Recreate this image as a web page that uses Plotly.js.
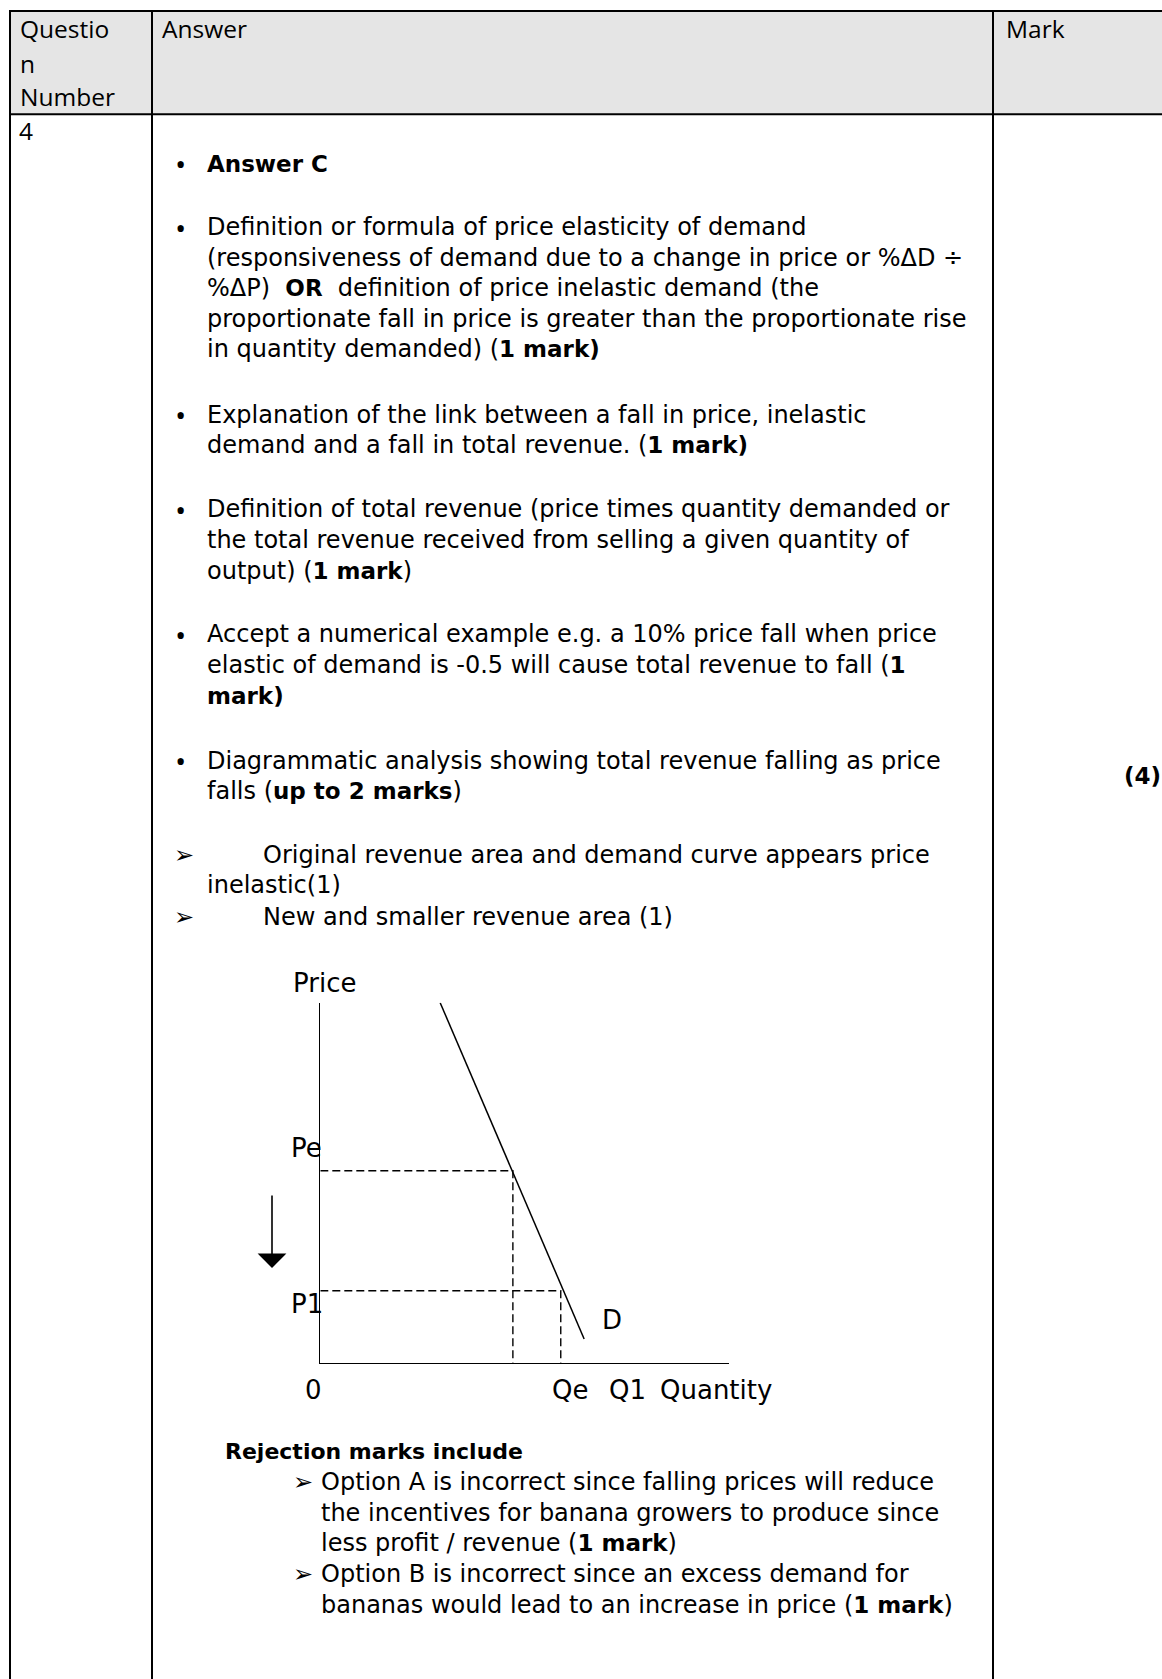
<!DOCTYPE html>
<html><head><meta charset="utf-8">
<script src="https://cdn.plot.ly/plotly-3.0.1.min.js"></script>
<style>html,body{margin:0;padding:0;background:#fff;}#chart{width:1162px;height:1679px;}</style>
</head><body><div id="chart"></div>
<script>
// ---------------- data ----------------
const headerQuestion = ['Questio', 'n', 'Number'];
const headerAnswer = 'Answer';
const headerMark = 'Mark';
const questionNumber = '4';
const markTotal = '(4)';

const answerLines = [
  '<b>Answer C</b>',
  'Definition or formula of price elasticity of demand',
  '(responsiveness of demand due to a change in price or %ΔD ÷',
  '%ΔP)&nbsp;&nbsp;<b>OR</b>&nbsp;&nbsp;definition of price inelastic demand (the',
  'proportionate fall in price is greater than the proportionate rise',
  'in quantity demanded) (<b>1 mark)</b>',
  'Explanation of the link between a fall in price, inelastic',
  'demand and a fall in total revenue. (<b>1 mark)</b>',
  'Definition of total revenue (price times quantity demanded or',
  'the total revenue received from selling a given quantity of',
  'output) (<b>1 mark</b>)',
  'Accept a numerical example e.g. a 10% price fall when price',
  'elastic of demand is -0.5 will cause total revenue to fall (<b>1</b>',
  '<b>mark)</b>',
  'Diagrammatic analysis showing total revenue falling as price',
  'falls (<b>up to 2 marks</b>)',
  'Original revenue area and demand curve appears price',
  'inelastic(1)',
  'New and smaller revenue area (1)'
];
// line kinds: b = bullet, c = continuation, a = arrow item
const answerKinds = ['b','b','c','c','c','c','b','c','b','c','c','b','c','c','b','c','a','c','a'];

const rejectionTitle = '<b>Rejection marks include</b>';
const rejectionLines = [
  'Option A is incorrect since falling prices will reduce',
  'the incentives for banana growers to produce since',
  'less profit / revenue (<b>1 mark</b>)',
  'Option B is incorrect since an excess demand for',
  'bananas would lead to an increase in price (<b>1 mark</b>)'
];
const rejectionKinds = ['a','c','c','a','c'];

// diagram (price/quantity in diagram units)
const axisTitles = ['Price', 'Quantity'];
const demandLabel = 'D';
const demandQ = [3.33, 7.33];
const demandP = [10, 0.66];
const priceLabels = ['Pe', 'P1'];
const priceValues = [5.33, 2.0];
const quantityLabels = ['Qe', 'Q1'];
const quantityValues = [5.35, 6.68];
const originLabel = '0';

// ---------------- layout ----------------
const W = 1162, H = 1679;
const BODY = {family: 'DejaVu Sans, sans-serif', size: 24, color: '#000'};
const BULLET = {family: 'Open Sans, sans-serif', size: 30, color: '#000'};
const ARROW = {family: 'DejaVu Sans, sans-serif', size: 24, color: '#000'};
const HEAD = {family: 'Open Sans, sans-serif', size: 24.5, color: '#000'};
const MARK = {family: 'DejaVu Sans, sans-serif', size: 24, color: '#000'};
const DIAG = {family: 'DejaVu Sans, sans-serif', size: 26, color: '#000'};
const boldStyle = s => s.replace(/<b>/g, '<b><span style="font-size:23px">').replace(/<\/b>/g, '</span></b>');

const answerY = [163.5, 227, 257.5, 288, 318.5, 349, 414.5, 445, 509, 539.5, 570.5, 634, 665, 696, 760.5, 791, 854.5, 885, 916.5];
const rejectionTitleY = 1451;
const rejectionY = [1482, 1512.5, 1543, 1574, 1604.5];

const annotations = [];
function txt(x, y, text, font, xanchor) {
  annotations.push({xref: 'x', yref: 'y', x: x, y: y, text: text, showarrow: false, borderpad: 0,
    xanchor: xanchor || 'left', yanchor: 'middle', font: font, align: 'left'});
}
// header
headerQuestion.forEach((t, i) => txt(19, [28, 63, 96][i], t, HEAD));
txt(161, 28, headerAnswer, HEAD);
txt(1005, 28, headerMark, HEAD);
txt(18, 130, questionNumber, HEAD);
txt(1162, 776, boldStyle('<b>' + markTotal + '</b>'), MARK, 'right');

// answer lines
answerLines.forEach((t, i) => {
  const k = answerKinds[i];
  const s = boldStyle(t);
  if (k === 'b') { txt(180, answerY[i], '•', BULLET, 'center'); txt(206, answerY[i], s, BODY); }
  else if (k === 'a') { txt(173, answerY[i], '➢', ARROW); txt(262, answerY[i], s, BODY); }
  else txt(206, answerY[i], s, BODY);
});
txt(224, rejectionTitleY, boldStyle(rejectionTitle).replace('23px', '22px'), BODY);
rejectionLines.forEach((t, i) => {
  if (rejectionKinds[i] === 'a') txt(292, rejectionY[i], '➢', ARROW);
  txt(320, rejectionY[i], boldStyle(t), BODY);
});

// diagram labels
txt(324, 983, axisTitles[0], DIAG, 'center');
txt(716, 1390, axisTitles[1], DIAG, 'center');
txt(290, 1148, priceLabels[0], DIAG);
txt(290, 1304, priceLabels[1], DIAG);
txt(313, 1390, originLabel, DIAG, 'center');
txt(570, 1390, quantityLabels[0], DIAG, 'center');
txt(627, 1390, quantityLabels[1], DIAG, 'center');
txt(601, 1320, demandLabel, DIAG);
// price-fall arrow
annotations.push({xref: 'x', yref: 'y', axref: 'x', ayref: 'y', x: 272, y: 1268, ax: 272, ay: 1194,
  showarrow: true, arrowhead: 1, arrowsize: 3, arrowwidth: 1.6, arrowcolor: '#000', text: ''});

// table shapes
const LC = '#000';
const shapes = [
  {type: 'rect', xref: 'x', yref: 'y', x0: 10, x1: 1162, y0: 11, y1: 114, fillcolor: '#e5e5e5', line: {width: 0}, layer: 'below'},
  {type: 'line', xref: 'x', yref: 'y', x0: 9, x1: 1162, y0: 11, y1: 11, line: {color: LC, width: 2}},
  {type: 'line', xref: 'x', yref: 'y', x0: 9, x1: 1162, y0: 114.3, y1: 114.3, line: {color: LC, width: 2}},
  {type: 'line', xref: 'x', yref: 'y', x0: 10, x1: 10, y0: 10, y1: 1679, line: {color: LC, width: 2}},
  {type: 'line', xref: 'x', yref: 'y', x0: 152, x1: 152, y0: 10, y1: 1679, line: {color: LC, width: 2}},
  {type: 'line', xref: 'x', yref: 'y', x0: 993, x1: 993, y0: 10, y1: 1679, line: {color: LC, width: 2}}
];

// diagram traces
const traces = [];
traces.push({type: 'scatter', mode: 'lines', x: demandQ, y: demandP, xaxis: 'x2', yaxis: 'y2',
  line: {color: '#000', width: 1.5}, hoverinfo: 'skip', showlegend: false});
priceValues.forEach((p, i) => {
  const q = quantityValues[i];
  traces.push({type: 'scatter', mode: 'lines', x: [0, q, q], y: [p, p, 0], xaxis: 'x2', yaxis: 'y2',
    line: {color: '#000', width: 1.4, dash: '8px,4px'}, hoverinfo: 'skip', showlegend: false});
});
// invisible trace for the base (page) axes
traces.push({type: 'scatter', mode: 'markers', x: [0], y: [0], marker: {opacity: 0}, hoverinfo: 'skip', showlegend: false});

const px = v => v / W, py = v => (H - v) / H;
const layout = {
  width: W, height: H, margin: {l: 0, r: 0, t: 0, b: 0},
  paper_bgcolor: '#fff', plot_bgcolor: 'rgba(0,0,0,0)', showlegend: false,
  xaxis: {range: [0, W], visible: false, domain: [0, 1], fixedrange: true},
  yaxis: {range: [H, 0], visible: false, domain: [0, 1], fixedrange: true},
  xaxis2: {domain: [px(320.3), px(728.5)], range: [0, 11.34], anchor: 'y2', showline: true, linecolor: '#000', linewidth: 1.5,
    showgrid: false, zeroline: false, showticklabels: false, ticks: ''},
  yaxis2: {domain: [py(1362.7), py(1002.7)], range: [0, 10], anchor: 'x2', showline: true, linecolor: '#000', linewidth: 1.5,
    showgrid: false, zeroline: false, showticklabels: false, ticks: ''},
  shapes: shapes, annotations: annotations
};
Plotly.newPlot('chart', traces, layout, {staticPlot: true, displayModeBar: false});
</script></body></html>
